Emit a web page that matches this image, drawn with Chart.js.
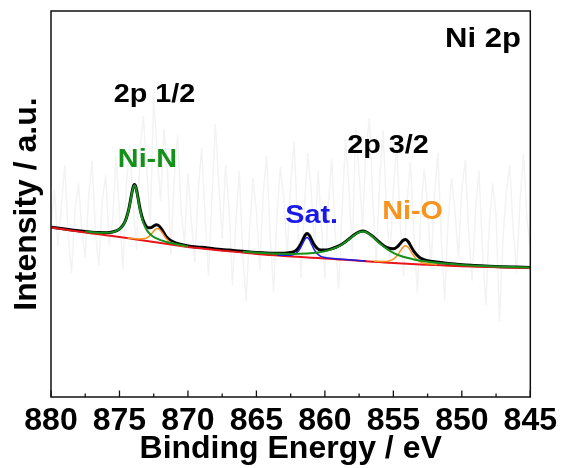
<!DOCTYPE html>
<html>
<head>
<meta charset="utf-8">
<script src="https://cdn.jsdelivr.net/npm/chart.js@4"></script>
<style>
  html, body { margin: 0; padding: 0; background: #fff; }
  #chart { display: block; }
</style>
</head>
<body>
<canvas id="chart" width="562" height="468"></canvas>
<script>
// Ni 2p XPS spectrum (intensity in arbitrary units)
const xTicks = [880, 875, 870, 865, 860, 855, 850, 845];

// raw counts, one point every 0.25 eV starting at 880 eV
const rawStart = 880;
const rawStep = 0.25;
const rawCounts = [
  172, 208, 151, 189, 232, 163, 124, 186, 214, 168,
  139, 201, 236, 164, 131, 197, 222, 152, 176, 241,
  184, 128, 211, 252, 193, 147, 247, 281, 226, 171,
  302, 243, 196, 268, 229, 142, 218, 262, 187, 153,
  224, 176, 135, 207, 249, 182, 121, 199, 273, 214,
  158, 232, 189, 112, 174, 226, 143, 96, 167, 219,
  186, 127, 204, 241, 162, 105, 181, 230, 198, 141,
  213, 256, 177, 119, 188, 244, 206, 150, 226, 172,
  118, 193, 238, 165, 108, 184, 257, 212, 144, 269,
  223, 171, 247, 279, 196, 132, 218, 266, 185, 137,
  208, 251, 174, 121, 197, 235, 162, 104, 183, 228,
  191, 129, 202, 244, 158, 97, 176, 219, 185, 139,
  207, 237, 164, 116, 188, 226, 149, 92, 171, 214,
  182, 75, 158, 205, 232, 167, 124, 196, 243, 178,
  150
];

// background (red)
const bgEnergy = [880, 879, 878, 877, 876, 875, 874, 873, 872, 871, 870, 869, 868, 867, 866, 865, 864, 863,
  862, 861, 860, 859, 858, 857, 856, 855, 854, 853, 852, 851, 850, 849, 848, 847, 846, 845];
const bgValue = [169.5, 167.5, 165.5, 163.6, 161.8, 160, 158, 156, 154, 152, 150, 148.5, 147, 145.8, 144.4, 143, 142, 141,
  140.2, 139.3, 138.5, 137.6, 136.7, 135.8, 134.9, 134, 133.3, 132.6, 132, 131.3, 130.7, 130.3, 129.9, 129.6, 129.3, 129];

// Ni-N 2p1/2 (green)
const niN12Energy = [877.5, 877, 876.5, 876, 875.5, 875, 874.7, 874.5, 874.3, 874.1, 874.0, 873.9, 873.8, 873.7,
  873.5, 873.3, 873.1, 872.9, 872.6, 872.3, 872, 871.5, 871, 870.5, 870];
const niN12Value = [165.4, 164.7, 164.3, 164.2, 164.9, 167.7, 172.4, 178.4, 188.8, 203.3, 209.5, 211.8, 209.1, 202.5,
  187.2, 176, 169.2, 164.9, 161, 158.6, 156.9, 154.8, 153.3, 151.9, 150.7];

// Ni-O 2p1/2 (orange)
const niO12Energy = [874.4, 873.9, 873.5, 873.2, 873.0, 872.8, 872.6, 872.4, 872.2, 872.0, 871.8, 871.6, 871.4,
  871.2, 870.9, 870.5, 870];
const niO12Value = [159.1, 158.4, 158.1, 158.4, 159.2, 161.1, 164.2, 167.3, 168.4, 166.5, 162.6, 158.7, 156.0,
  154.4, 152.9, 151.6, 150.3];

// satellite (blue)
const satEnergy = [863.5, 863, 862.6, 862.3, 862.0, 861.8, 861.6, 861.45, 861.3, 861.15, 861.0, 860.8, 860.6,
  860.3, 860.0, 859.6, 859, 858, 857];
const satValue = [141.9, 141.65, 141.8, 142.4, 145.0, 148.7, 154.1, 158.0, 159.6, 157.7, 153.6, 147.8, 143.8,
  140.7, 139.6, 138.75, 138.0, 136.9, 136.0];

// Ni-N 2p3/2 (green, broad)
const niN32Energy = [866, 864, 862.5, 861.3, 860.5, 859.8, 859.2, 858.7, 858.2, 857.8, 857.5, 857.2, 856.9, 856.5,
  856, 855.5, 855, 854.5, 854, 853.5, 853, 852, 851, 850, 848.5, 847, 845];
const niN32Value = [145.35, 143.55, 143.1, 143.5, 144.5, 146.4, 149.3, 153.0, 158.1, 162.4, 164.7, 165.5, 164.2, 160.1,
  153.8, 148.35, 144.2, 141.3, 139.2, 137.55, 136.3, 134.55, 133.15, 132.1, 131.05, 130.3, 129.5];

// Ni-O 2p3/2 (orange)
const niO32Energy = [856.4, 855.8, 855.4, 855.1, 854.9, 854.7, 854.5, 854.3, 854.1, 853.9, 853.7, 853.5, 853.3,
  853.1, 852.8, 852.4, 851.8];
const niO32Value = [135.7, 135.6, 135.85, 137.1, 138.9, 141.8, 145.7, 149.65, 151.35, 149.4, 145.2, 140.95, 137.8,
  135.7, 134.0, 133.15, 132.4];

// fitted envelope (black)
const fitEnergy = [880, 879, 878, 877, 876.5, 876, 875.5, 875, 874.7, 874.5, 874.3, 874.1, 874.0, 873.9, 873.8, 873.7,
  873.5, 873.3, 873.1, 872.9, 872.7, 872.5, 872.3, 872.1, 871.9, 871.6, 871.3, 871, 870.5, 870, 869, 868, 867, 866,
  865, 864, 863, 862.5, 862.2, 862.0, 861.8, 861.6, 861.45, 861.3, 861.15, 861.0, 860.8, 860.6, 860.3, 860.0, 859.6,
  859.2, 858.7, 858.2, 857.8, 857.5, 857.2, 856.9, 856.5, 856.0, 855.5, 855.0, 854.7, 854.5, 854.3, 854.1, 853.9,
  853.7, 853.5, 853.2, 852.9, 852.5, 852, 851, 850, 849, 848, 847, 846, 845];
const fitValue = [169.8, 167.9, 166.15, 164.8, 164.4, 164.3, 165.05, 167.9, 172.65, 178.7, 189.15, 203.75, 210, 212.4,
  209.8, 203.3, 188.3, 177.7, 171.8, 169.2, 169.4, 171.0, 172.2, 171.0, 167.3, 160.7, 156.8, 154.7, 152.5, 151.0,
  149.65, 148.05, 146.9, 145.65, 144.4, 143.85, 143.75, 144.5, 145.75, 147.95, 151.9, 157.55, 161.65, 163.5, 161.85,
  158.05, 152.65, 149.15, 146.9, 146.9, 147.85, 149.75, 153.3, 158.5, 162.8, 165.1, 165.95, 164.55, 160.55, 154.5,
  149.65, 148.2, 150.4, 153.4, 156.55, 157.55, 155.0, 150.3, 145.55, 140.85, 138.05, 136.4, 135.15, 133.45, 132.3,
  131.55, 130.8, 130.3, 129.9, 129.5];

const GREEN = '#15901a';
const ORANGE = '#f7941d';
const BLUE = '#1a1ae6';
const RED = '#e8141a';
const FONT = '"Liberation Sans", Arial, sans-serif';

// text labels placed in data coordinates (energy, intensity = text baseline)
const notes = [
  { text: 'Ni 2p', e: 848.46, v: 350, color: '#000', size: 27 },
  { text: '2p 1/2', e: 872.45, v: 295, color: '#000', size: 25 },
  { text: 'Ni-N', e: 872.96, v: 230, color: GREEN, size: 25 },
  { text: '2p 3/2', e: 855.39, v: 244, color: '#000', size: 25 },
  { text: 'Sat.', e: 860.97, v: 174, color: BLUE, size: 25 },
  { text: 'Ni-O', e: 853.6, v: 178, color: ORANGE, size: 25 }
];

const pts = (xs, ys) => xs.map((x, i) => ({ x: x, y: ys[i] }));
const rawPoints = rawCounts.map((c, i) => ({ x: rawStart - i * rawStep, y: c }));

const curve = (data, color, width, order) => ({
  data: data,
  borderColor: color,
  borderWidth: width,
  pointRadius: 0,
  fill: false,
  cubicInterpolationMode: 'monotone',
  order: order
});

const framePlugin = {
  id: 'frame',
  afterDraw(chart) {
    const ctx = chart.ctx;
    const a = chart.chartArea;
    const xs = chart.scales.x;
    ctx.save();
    ctx.strokeStyle = '#111';
    ctx.lineWidth = 1.5;
    ctx.strokeRect(a.left, a.top, a.right - a.left, a.bottom - a.top);
    // inward ticks on the bottom axis, minor ones half way
    ctx.lineWidth = 1.3;
    xs.ticks.forEach((t, i) => {
      const px = xs.getPixelForValue(t.value);
      ctx.beginPath();
      ctx.moveTo(px, a.bottom);
      ctx.lineTo(px, a.bottom - 6.5);
      ctx.stroke();
      if (i < xs.ticks.length - 1) {
        const mx = xs.getPixelForValue((t.value + xs.ticks[i + 1].value) / 2);
        ctx.beginPath();
        ctx.moveTo(mx, a.bottom);
        ctx.lineTo(mx, a.bottom - 3.5);
        ctx.stroke();
      }
    });
    // annotations
    notes.forEach(n => {
      ctx.save();
      ctx.translate(xs.getPixelForValue(n.e), chart.scales.y.getPixelForValue(n.v));
      ctx.scale(1.15, 1);
      ctx.font = 'bold ' + n.size + 'px ' + FONT;
      ctx.fillStyle = n.color;
      ctx.textAlign = 'center';
      ctx.textBaseline = 'alphabetic';
      ctx.fillText(n.text, 0, 0);
      ctx.restore();
    });
    ctx.restore();
  }
};

new Chart(document.getElementById('chart').getContext('2d'), {
  type: 'line',
  data: {
    datasets: [
      { data: rawPoints, borderColor: '#f3f3f3', borderWidth: 1.5, pointRadius: 0, fill: false, tension: 0, order: 6 },
      curve(pts(fitEnergy, fitValue), '#000', 3, 5),
      curve(pts(bgEnergy, bgValue), RED, 2, 4),
      curve(pts(satEnergy, satValue), BLUE, 1.5, 3),
      curve(pts(niO12Energy, niO12Value), ORANGE, 1.5, 2),
      curve(pts(niO32Energy, niO32Value), ORANGE, 1.5, 2),
      curve(pts(niN12Energy, niN12Value), GREEN, 2, 1),
      curve(pts(niN32Energy, niN32Value), GREEN, 2, 1)
    ]
  },
  options: {
    responsive: false,
    animation: false,
    devicePixelRatio: 1,
    layout: { padding: { top: 11, right: 31, left: 0, bottom: 0 } },
    plugins: { legend: { display: false }, tooltip: { enabled: false } },
    scales: {
      x: {
        type: 'linear',
        reverse: true,
        min: 845,
        max: 880,
        afterFit: s => { s.height = 71; },
        afterBuildTicks: s => { s.ticks = xTicks.map(v => ({ value: v })); },
        grid: { display: false, drawTicks: false },
        border: { display: false },
        ticks: {
          color: '#000',
          padding: 5,
          maxRotation: 0,
          autoSkip: false,
          font: { family: FONT, size: 32, weight: 'bold', lineHeight: 1.2 }
        },
        title: {
          display: true,
          text: 'Binding Energy / eV',
          color: '#000',
          padding: { top: 0, bottom: 0 },
          font: { family: FONT, size: 32, weight: 'bold', lineHeight: 1.2 }
        }
      },
      y: {
        type: 'linear',
        min: 0,
        max: 386,
        afterFit: s => { s.width = 51; },
        grid: { display: false, drawTicks: false },
        border: { display: false },
        ticks: { display: false },
        title: {
          display: true,
          text: 'Intensity / a.u.',
          color: '#000',
          padding: { top: 8, bottom: 0 },
          font: { family: FONT, size: 32, weight: 'bold', lineHeight: 1.2 }
        }
      }
    }
  },
  plugins: [framePlugin]
});
</script>
</body>
</html>
